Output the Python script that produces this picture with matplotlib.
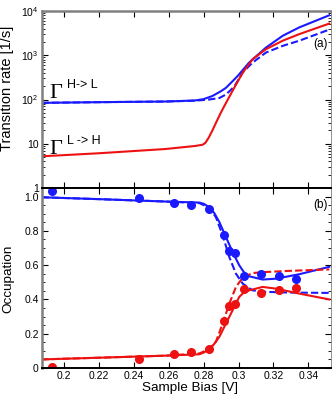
import numpy as np
import matplotlib
matplotlib.use("Agg")
import matplotlib.pyplot as plt
from matplotlib.ticker import NullFormatter, LogLocator, MultipleLocator

plt.rcParams["font.family"] = ["Liberation Sans", "DejaVu Sans"]
plt.rcParams["mathtext.default"] = "regular"

# ── (a) transition rates [1/s] vs sample bias [V] ─────────────────────────
bias_hl = [0.187, 0.22, 0.258, 0.275, 0.28, 0.285, 0.29, 0.2928, 0.2995,
           0.306, 0.3157, 0.3253, 0.3348, 0.352]
rate_hl = [84, 87, 90, 95, 102, 120, 155, 184, 340,
           680, 1490, 2750, 4260, 8000]

bias_lh = [0.187, 0.22, 0.258, 0.275, 0.2794, 0.281, 0.283, 0.285, 0.287,
           0.29, 0.2928, 0.2975, 0.3024, 0.308, 0.3157, 0.3253, 0.3348, 0.352]
rate_lh = [5.2, 6.1, 7.6, 8.9, 9.5, 10.5, 14, 20, 29.5,
           52, 84, 184, 405, 810, 1370, 2130, 3000, 5200]

bias_hl_fit = [0.187, 0.22, 0.258, 0.275, 0.2832, 0.289, 0.2928, 0.2975,
               0.3024, 0.308, 0.3157, 0.3253, 0.3348, 0.352]
rate_hl_fit = [84, 87, 90, 94, 100, 108, 130, 195,
               410, 680, 1150, 1630, 2130, 3800]

# ── (b) occupation ───────────────────────────────────────────────────────
bias_pts = [0.1928, 0.243, 0.2631, 0.2727, 0.2828, 0.2918, 0.2943, 0.2979,
            0.3033, 0.3128, 0.323, 0.3329]
occ_high = [1.035, 0.994, 0.963, 0.948, 0.928, 0.773, 0.680, 0.672,
            0.535, 0.550, 0.537, 0.517]
occ_low = [0.005, 0.052, 0.080, 0.095, 0.110, 0.273, 0.362, 0.372,
           0.458, 0.438, 0.453, 0.469]

bias_occ = [0.187, 0.22, 0.2583, 0.2775, 0.280, 0.2832, 0.286, 0.289, 0.2928,
            0.2966, 0.3004, 0.303, 0.3061, 0.3138, 0.3214, 0.3348, 0.352]
high_solid = [0.996, 0.985, 0.971, 0.965, 0.958, 0.938, 0.905, 0.851, 0.763,
              0.676, 0.599, 0.56, 0.535, 0.516, 0.521, 0.547, 0.59]
low_solid = [0.05, 0.06, 0.072, 0.080, 0.09, 0.109, 0.14, 0.182, 0.26,
             0.337, 0.415, 0.44, 0.453, 0.473, 0.463, 0.434, 0.40]

bias_occ_fit = [0.187, 0.22, 0.2583, 0.2775, 0.2832, 0.287, 0.2909, 0.2947,
                0.2985, 0.3024, 0.308, 0.3157, 0.33, 0.352]
high_dash = [0.996, 0.985, 0.971, 0.962, 0.935, 0.88, 0.773, 0.647,
             0.55, 0.492, 0.453, 0.444, 0.44, 0.438]
low_dash = [0.05, 0.06, 0.072, 0.085, 0.11, 0.153, 0.26, 0.376,
            0.473, 0.527, 0.554, 0.56, 0.567, 0.575]

BLUE = "#1a1aff"
RED = "#ee1111"
GRAY = "#808080"
DASH = (0, (3.5, 1.5))

fig = plt.figure(figsize=(3.32, 4.0), dpi=100)
ax1 = fig.add_axes([0.125, 0.53, 0.872, 0.4425])
ax2 = fig.add_axes([0.125, 0.08, 0.872, 0.45])

# ─ top panel ─
ax1.plot(bias_hl, rate_hl, color=BLUE, lw=1.5)
ax1.plot(bias_hl_fit, rate_hl_fit, color=BLUE, lw=1.5, ls=DASH)
ax1.plot(bias_lh, rate_lh, color=RED, lw=1.5)
ax1.set_yscale("log")
ax1.set_ylim(1, 1e4)
ax1.set_xlim(0.187, 0.353)
ax1.set_yticks([1, 10, 100, 1000, 10000])
ax1.set_yticklabels(["1", "10", "$10^2$", "$10^3$", "$10^4$"])
ax1.yaxis.set_minor_locator(LogLocator(base=10, subs=np.arange(2, 10)))
ax1.yaxis.set_minor_formatter(NullFormatter())
ax1.set_xticks(np.arange(0.20, 0.3401, 0.02))
ax1.set_xticklabels([])

# ─ bottom panel ─
ax2.plot(bias_occ, high_solid, color=BLUE, lw=1.5)
ax2.plot(bias_occ_fit, high_dash, color=BLUE, lw=1.5, ls=DASH)
ax2.plot(bias_occ, low_solid, color=RED, lw=1.5)
ax2.plot(bias_occ_fit, low_dash, color=RED, lw=1.5, ls=DASH)
ax2.plot(bias_pts, occ_high, "o", color=BLUE, ms=5.5)
ax2.plot(bias_pts, occ_low, "o", color=RED, ms=5.5)
ax2.set_xlim(0.187, 0.353)
ax2.set_ylim(0, 1.05)
ax2.set_xticks(np.arange(0.20, 0.3401, 0.02))
ax2.set_xticklabels(["0.2", "0.22", "0.24", "0.26", "0.28", "0.3", "0.32", "0.34"])
ax2.set_yticks([0, 0.2, 0.4, 0.6, 0.8, 1.0])
ax2.set_yticklabels(["0", "0.2", "0.4", "0.6", "0.8", "1.0"])
ax2.yaxis.set_minor_locator(MultipleLocator(0.05))

for ax in (ax1, ax2):
    ax.tick_params(which="major", direction="in", length=4, width=0.8,
                   labelsize=7.5, top=True, right=True, pad=2)
    ax.tick_params(which="minor", direction="in", length=2, width=0.6,
                   right=True)
    ax.tick_params(axis="x", which="minor", bottom=False, top=False)
    ax.spines["left"].set_color(GRAY)
    ax.spines["left"].set_linewidth(1.8)
    ax.spines["right"].set_color(GRAY)
    ax.spines["right"].set_linewidth(0.6)

ax1.spines["top"].set_color(GRAY)
ax1.spines["top"].set_linewidth(1.8)
ax1.spines["bottom"].set_color("black")
ax1.spines["bottom"].set_linewidth(1.4)
ax2.spines["top"].set_color("black")
ax2.spines["top"].set_linewidth(1.4)
ax2.spines["bottom"].set_color("black")
ax2.spines["bottom"].set_linewidth(1.4)

# Gamma labels
serif = ["Liberation Serif", "DejaVu Serif"]
fig.text(49 / 332, 1 - 97.5 / 400, "Γ", family=serif, fontsize=16,
         va="baseline", ha="left")
fig.text(67 / 332, 1 - 88.5 / 400, "H-> L", fontsize=9, va="baseline", ha="left")
fig.text(49 / 332, 1 - 153.5 / 400, "Γ", family=serif, fontsize=16,
         va="baseline", ha="left")
fig.text(67 / 332, 1 - 144 / 400, "L -> H", fontsize=9, va="baseline", ha="left")

fig.text(320 / 332, 1 - 44 / 400, "(a)", fontsize=8.5, ha="center", va="center")
fig.text(320 / 332, 1 - 205 / 400, "(b)", fontsize=8.5, ha="center", va="center")

fig.text(7 / 332, 1 - 88 / 400, "Transition rate [1/s]", rotation=90,
         fontsize=10.5, ha="center", va="center")
fig.text(8 / 332, 1 - 279 / 400, "Occupation", rotation=90,
         fontsize=9.7, ha="center", va="center")
fig.text(190 / 332, 1 - 388 / 400, "Sample Bias [V]", fontsize=9.7,
         ha="center", va="center")

fig.savefig("out.png", dpi=100, facecolor="white")
